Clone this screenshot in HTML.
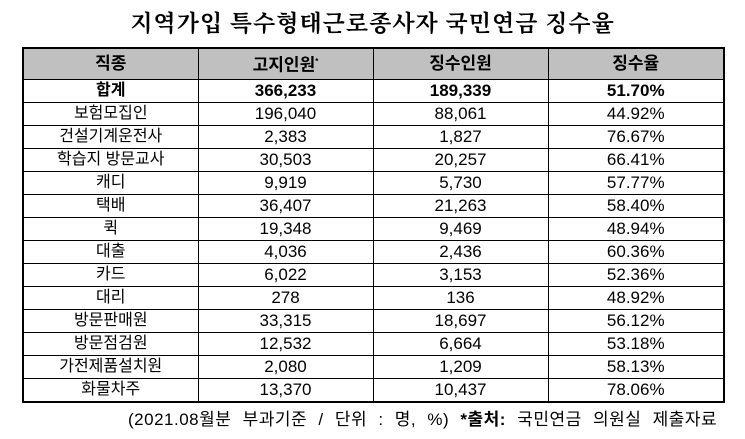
<!DOCTYPE html>
<html><head><meta charset="utf-8"><style>
body{margin:0;width:745px;height:439px;background:#fff;position:relative;overflow:hidden;font-family:"Liberation Sans","Noto Sans CJK KR",sans-serif;}
.title{position:absolute;top:5px;left:0;width:745px;text-align:center;font-family:"Noto Serif CJK SC","Noto Sans CJK KR",serif;font-size:23px;font-weight:bold;letter-spacing:1px;}
table{position:absolute;left:22px;top:47px;border-collapse:collapse;border:2px solid #000;}
td{border:1px solid #000;height:22px;padding:0;text-align:center;font-size:16px;line-height:22px;}
tr.h td{background:#c0c0c0;font-weight:bold;height:30px;font-size:17px;}
tr.s td{font-weight:bold;}
td.n{font-family:"Liberation Sans Narrow","Liberation Sans",sans-serif;font-size:17px;}
.foot{position:absolute;top:405px;left:128px;font-size:17px;letter-spacing:0.5px;word-spacing:6px;white-space:nowrap;}
</style></head><body>
<div class="title">지역가입 특수형태근로종사자 국민연금 징수율</div>
<table>
<colgroup><col style="width:175px"><col style="width:175px"><col style="width:175px"><col style="width:176px"></colgroup>
<tr class="h"><td>직종</td><td>고지인원<sup style="font-size:8px">*</sup></td><td>징수인원</td><td>징수율</td></tr>
<tr class="s"><td>합계</td><td class="n">366,233</td><td class="n">189,339</td><td class="n">51.70%</td></tr>
<tr><td>보험모집인</td><td class="n">196,040</td><td class="n">88,061</td><td class="n">44.92%</td></tr>
<tr><td>건설기계운전사</td><td class="n">2,383</td><td class="n">1,827</td><td class="n">76.67%</td></tr>
<tr><td>학습지 방문교사</td><td class="n">30,503</td><td class="n">20,257</td><td class="n">66.41%</td></tr>
<tr><td>캐디</td><td class="n">9,919</td><td class="n">5,730</td><td class="n">57.77%</td></tr>
<tr><td>택배</td><td class="n">36,407</td><td class="n">21,263</td><td class="n">58.40%</td></tr>
<tr><td>퀵</td><td class="n">19,348</td><td class="n">9,469</td><td class="n">48.94%</td></tr>
<tr><td>대출</td><td class="n">4,036</td><td class="n">2,436</td><td class="n">60.36%</td></tr>
<tr><td>카드</td><td class="n">6,022</td><td class="n">3,153</td><td class="n">52.36%</td></tr>
<tr><td>대리</td><td class="n">278</td><td class="n">136</td><td class="n">48.92%</td></tr>
<tr><td>방문판매원</td><td class="n">33,315</td><td class="n">18,697</td><td class="n">56.12%</td></tr>
<tr><td>방문점검원</td><td class="n">12,532</td><td class="n">6,664</td><td class="n">53.18%</td></tr>
<tr><td>가전제품설치원</td><td class="n">2,080</td><td class="n">1,209</td><td class="n">58.13%</td></tr>
<tr><td>화물차주</td><td class="n">13,370</td><td class="n">10,437</td><td class="n">78.06%</td></tr>
</table>
<div class="foot">(2021.08월분 부과기준 / 단위 : 명, %) <b>*출처:</b> 국민연금 의원실 제출자료</div>
</body></html>
